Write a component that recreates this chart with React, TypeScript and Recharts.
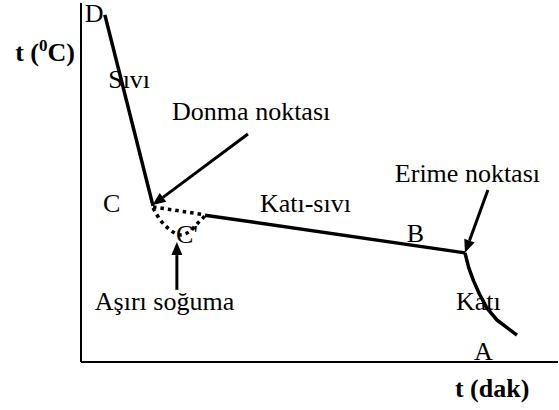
import React from 'react';
import { LineChart, Line, XAxis, YAxis, ReferenceDot, ReferenceLine } from 'recharts';

// Cooling curve (arbitrary units: time 0..100, temperature 0..100)
const liquidX = [5.0, 15.1];
const liquidY = [96.7, 43.5];
const plateauX = [26.0, 80.5];
const plateauY = [40.9, 30.4];
const solidX = [80.5, 81.3, 82.3, 83.5, 85.1, 87.2, 91.4];
const solidY = [30.4, 26.2, 22.6, 19.0, 15.0, 11.7, 7.5];
const dotStraightX = [15.1, 26.0];
const dotStraightY = [43.2, 41.0];
const dotCurveX = [15.1, 16.6, 18.7, 20.8, 22.9, 24.5, 26.0];
const dotCurveY = [42.9, 39.6, 36.8, 35.4, 36.5, 38.7, 40.7];

const labelTexts = ['D', 'Sıvı', 'Donma noktası', 'C', "C'", 'Katı-sıvı', 'B', 'Erime noktası', 'Aşırı soğuma', 'Katı', 'A'];
const labelX = [0.8, 5.7, 19.1, 4.6, 19.9, 37.5, 68.3, 65.8, 2.9, 78.6, 82.4];
const labelY = [94.7, 76.3, 67.4, 41.8, 33.2, 41.8, 33.4, 50.1, 14.5, 14.5, 0.6];

const arrowFromX = [35.0, 85.3, 20.1];
const arrowFromY = [63.5, 47.9, 20.1];
const arrowToX = [15.0, 80.5, 20.1];
const arrowToY = [43.7, 30.4, 33.4];

const zip = (xs: number[], ys: number[]) => xs.map((x, i) => ({ x, y: ys[i] }));

const FONT = '"Liberation Serif", "Times New Roman", serif';
const FS = 26;

const textShape = (text: string) => (p: any) => (
  <text x={p.cx} y={p.cy} fontFamily={FONT} fontSize={FS} fill="#000">
    {text}
  </text>
);

const arrowShape = (p: any) => {
  const { x1, y1, x2, y2 } = p;
  const ang = Math.atan2(y2 - y1, x2 - x1);
  const len = 13;
  const half = 5.5;
  const bx = x2 - len * Math.cos(ang);
  const by = y2 - len * Math.sin(ang);
  const px = -Math.sin(ang) * half;
  const py = Math.cos(ang) * half;
  return (
    <g>
      <line x1={x1} y1={y1} x2={bx} y2={by} stroke="#000" strokeWidth={3} />
      <polygon points={`${x2},${y2} ${bx + px},${by + py} ${bx - px},${by - py}`} fill="#000" />
    </g>
  );
};

export default function App() {
  return (
    <div style={{ position: 'absolute', left: 0, top: 0, width: 559, height: 410, background: '#fff' }}>
      <LineChart width={559} height={410} margin={{ top: 3, left: 81, right: 1, bottom: 48 }}>
        <XAxis type="number" dataKey="x" domain={[0, 100]} allowDataOverflow tick={false} tickLine={false} axisLine={false} height={0} />
        <YAxis type="number" dataKey="y" domain={[0, 100]} allowDataOverflow tick={false} tickLine={false} axisLine={false} width={0} />
        <ReferenceLine x={0} stroke="#000" strokeWidth={2} ifOverflow="visible" />
        <ReferenceLine y={0} stroke="#000" strokeWidth={2} ifOverflow="visible" />
        <Line data={zip(dotStraightX, dotStraightY)} dataKey="y" type="linear" stroke="#000" strokeWidth={3.5} strokeDasharray="3.5 4" dot={false} isAnimationActive={false} />
        <Line data={zip(dotCurveX, dotCurveY)} dataKey="y" type="monotone" stroke="#000" strokeWidth={3.5} strokeDasharray="3.5 4" dot={false} isAnimationActive={false} />
        <Line data={zip(liquidX, liquidY)} dataKey="y" type="linear" stroke="#000" strokeWidth={3.5} dot={false} isAnimationActive={false} />
        <Line data={zip(plateauX, plateauY)} dataKey="y" type="linear" stroke="#000" strokeWidth={3.5} dot={false} isAnimationActive={false} />
        <Line data={zip(solidX, solidY)} dataKey="y" type="linear" stroke="#000" strokeWidth={3.5} strokeLinejoin="round" dot={false} isAnimationActive={false} />
        {arrowFromX.map((fx, i) => (
          <ReferenceLine
            key={'a' + i}
            segment={[{ x: fx, y: arrowFromY[i] }, { x: arrowToX[i], y: arrowToY[i] }]}
            shape={arrowShape}
            ifOverflow="visible"
          />
        ))}
        {labelTexts.map((t, i) => (
          <ReferenceDot key={'l' + i} x={labelX[i]} y={labelY[i]} r={1} ifOverflow="visible" shape={textShape(t)} />
        ))}
        <ReferenceDot
          x={-13.8}
          y={83.8}
          r={1}
          ifOverflow="visible"
          shape={(p: any) => (
            <text x={p.cx} y={p.cy} fontFamily={FONT} fontSize={FS} fontWeight="bold" fill="#000">
              t (<tspan fontSize={17} dy={-10}>0</tspan>
              <tspan dy={10}>C)</tspan>
            </text>
          )}
        />
        <ReferenceDot
          x={78.4}
          y={-9.7}
          r={1}
          ifOverflow="visible"
          shape={(p: any) => (
            <text x={p.cx} y={p.cy} fontFamily={FONT} fontSize={FS} fontWeight="bold" fill="#000">
              t (dak)
            </text>
          )}
        />
      </LineChart>
    </div>
  );
}
